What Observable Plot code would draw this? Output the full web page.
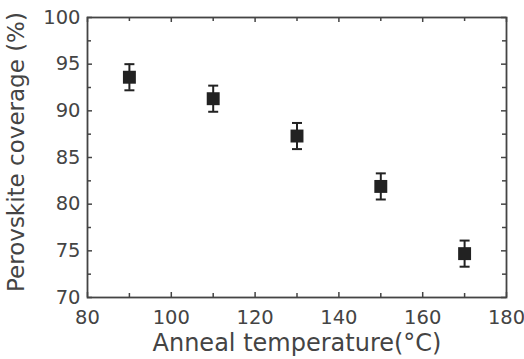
<!DOCTYPE html>
<html><head><meta charset="utf-8">
<script src="https://cdn.jsdelivr.net/npm/d3@7"></script>
<script src="https://cdn.jsdelivr.net/npm/@observablehq/plot@0.6"></script>
<style>body{margin:0;background:#fff} svg{display:block}</style>
</head><body><div id="chart"></div>
<script>
const temperatures = [90, 110, 130, 150, 170];
const coverage = [93.6, 91.3, 87.3, 81.9, 74.7];
const coverageErr = [1.4, 1.4, 1.4, 1.4, 1.4];
const xTicks = [80, 100, 120, 140, 160, 180];
const xMinor = [90, 110, 130, 150, 170];
const yTicks = [70, 75, 80, 85, 90, 95, 100];
const yMinor = [72.5, 77.5, 82.5, 87.5, 92.5, 97.5];
const xLabel = "Anneal temperature(°C)";
const yLabel = "Perovskite coverage (%)";

const W = 524, H = 359, mL = 87, mR = 18, mT = 17, mB = 62;
const iW = W - mL - mR, iH = H - mT - mB;
const data = temperatures.map((t, i) => ({t, c: coverage[i], lo: coverage[i] - coverageErr[i], hi: coverage[i] + coverageErr[i]}));
const cap = {draw(ctx, size) { const r = Math.sqrt(size / Math.PI); ctx.moveTo(-r, 0); ctx.lineTo(r, 0); }};
const ink = "#222", axisInk = "#444";
const majLen = 5, minLen = 4;

const tickMarks = (vals, len) => [
  Plot.ruleX(vals, {x: d => d, insetTop: iH - len, stroke: axisInk, strokeWidth: 1.5}),
  Plot.ruleX(vals, {x: d => d, insetBottom: iH - len, stroke: axisInk, strokeWidth: 1.5}),
];
const tickMarksY = (vals, len) => [
  Plot.ruleY(vals, {y: d => d, insetRight: iW - len, stroke: axisInk, strokeWidth: 1.5}),
  Plot.ruleY(vals, {y: d => d, insetLeft: iW - len, stroke: axisInk, strokeWidth: 1.5}),
];

const chart = Plot.plot({
  width: W, height: H,
  marginLeft: mL, marginRight: mR, marginTop: mT, marginBottom: mB,
  style: {fontFamily: "DejaVu Sans", fontSize: "19.5px", color: axisInk, background: "#fff"},
  x: {domain: [80, 180], nice: false},
  y: {domain: [70, 100], nice: false},
  marks: [
    ...tickMarks(xTicks, majLen),
    ...tickMarks(xMinor, minLen),
    ...tickMarksY(yTicks, majLen),
    ...tickMarksY(yMinor, minLen),
    Plot.ruleX(data, {x: "t", y1: "lo", y2: "hi", stroke: ink, strokeWidth: 2}),
    Plot.dot(data, {x: "t", y: "lo", symbol: cap, r: 5, stroke: ink, strokeWidth: 2, fill: "none"}),
    Plot.dot(data, {x: "t", y: "hi", symbol: cap, r: 5, stroke: ink, strokeWidth: 2, fill: "none"}),
    Plot.dot(data, {x: "t", y: "c", symbol: "square", r: 7.3, fill: ink, stroke: "none"}),
    Plot.frame({stroke: axisInk, strokeWidth: 1.8}),
    Plot.axisX({ticks: xTicks, tickSize: 0, tickPadding: 13, label: null, fontSize: 19.5, fill: axisInk}),
    Plot.axisY({ticks: yTicks, tickSize: 0, tickPadding: 7, label: null, fontSize: 19.5, fill: axisInk}),
    Plot.text([xLabel], {text: d => d, frameAnchor: "bottom", dy: 45.5, textAnchor: "middle", lineAnchor: "middle", fontSize: 24, fill: axisInk}),
    Plot.text([yLabel], {text: d => d, frameAnchor: "left", rotate: -90, dx: -70.5, dy: -5.5, textAnchor: "middle", lineAnchor: "middle", fontSize: 23, fill: axisInk})
  ]
});
document.getElementById("chart").append(chart);
</script>
</body></html>
